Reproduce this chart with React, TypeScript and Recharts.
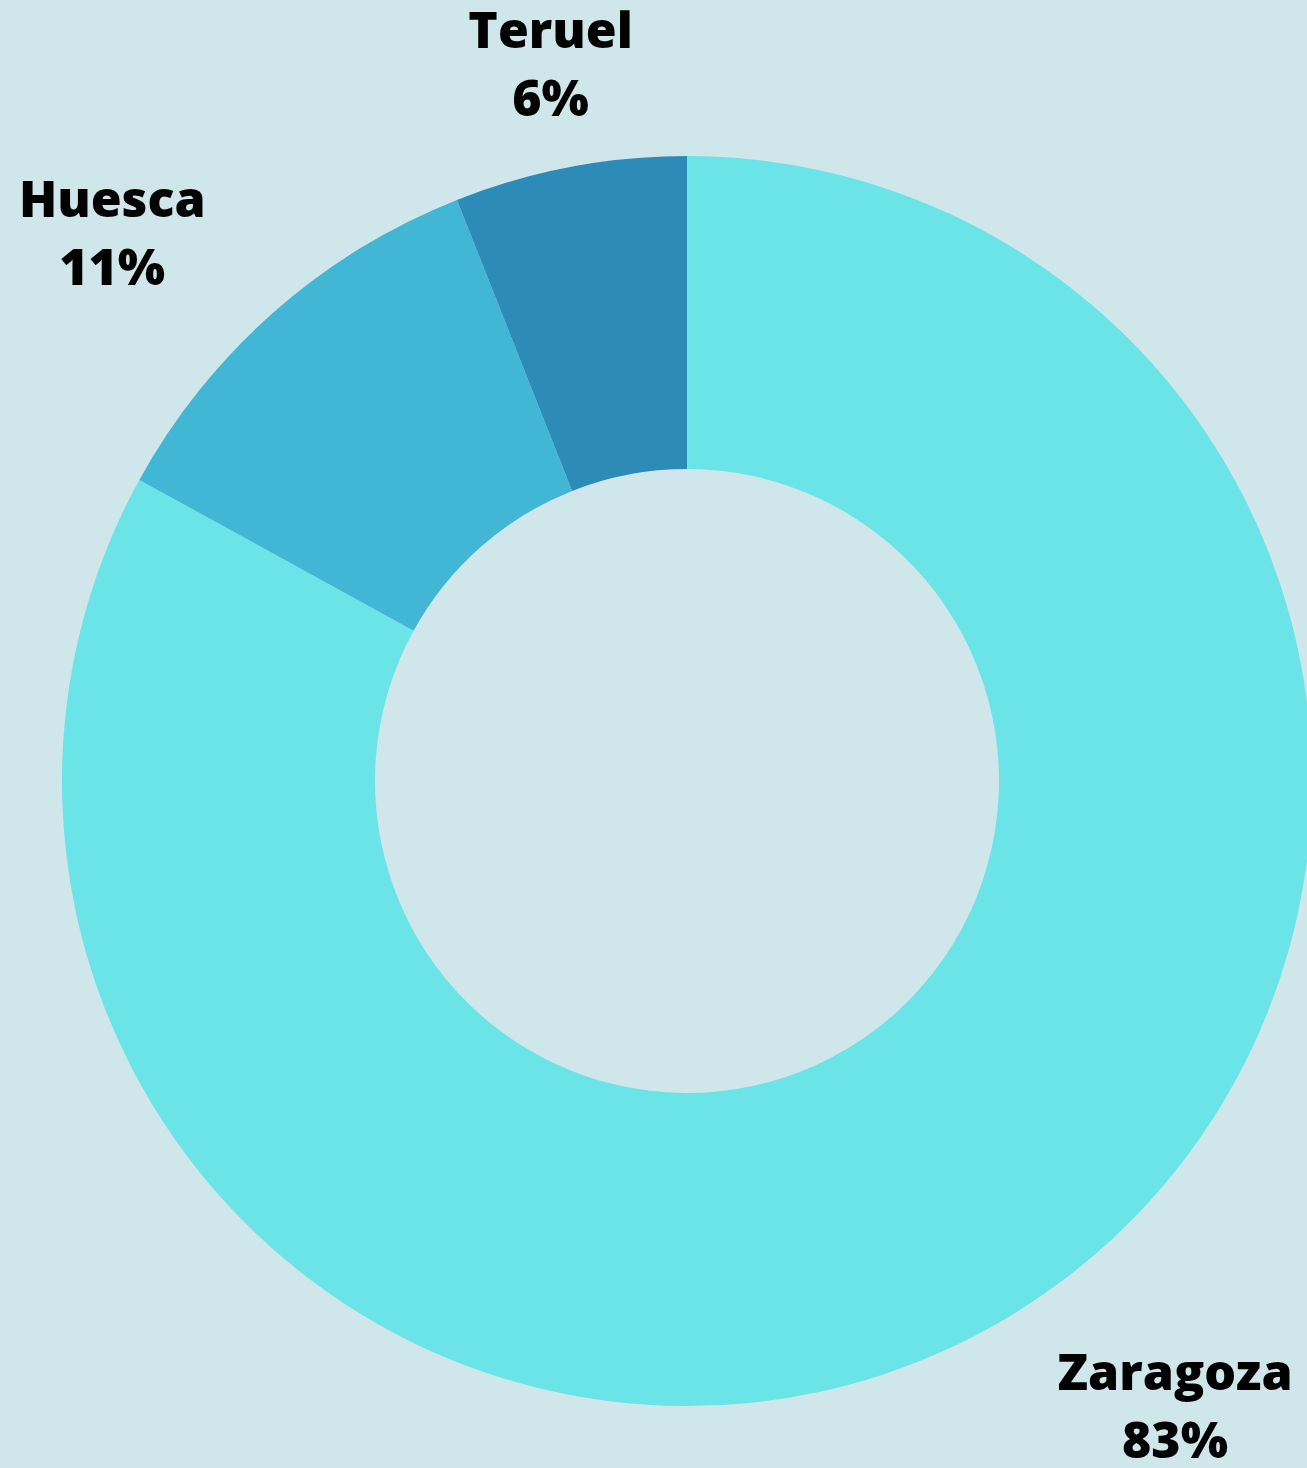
import { PieChart, Pie, Cell } from 'recharts';

const provinces = ['Zaragoza', 'Huesca', 'Teruel'];
const shares = [83, 11, 6];
const sliceColors = ['#6be4e8', '#42b7d5', '#2d8bb8'];

const data = provinces.map((name, i) => ({ name, value: shares[i] }));

const RADIAN = Math.PI / 180;
const LABEL_FONT = "800 50px 'Open Sans'";

let ctx: CanvasRenderingContext2D | null = null;
function textWidth(s: string) {
  if (!ctx) ctx = document.createElement('canvas').getContext('2d');
  if (!ctx) return s.length * 28;
  ctx.font = LABEL_FONT;
  return ctx.measureText(s).width;
}

// two-line label, block centred; block edge touches the radial point on the sides
function renderLabel(props: any) {
  const { cx, cy, midAngle, outerRadius, name, value } = props;
  const r = outerRadius + 103;
  const cos = Math.cos(-midAngle * RADIAN);
  const px = cx + r * cos;
  const y = cy + r * Math.sin(-midAngle * RADIAN);
  const half = textWidth(name) / 2;
  const x = Math.abs(cos) < 0.3 ? px : cos < 0 ? px - half : px + half;
  return (
    <text
      x={x}
      y={y}
      textAnchor="middle"
      fill="#000"
      fontFamily="'Open Sans', sans-serif"
      fontWeight={800}
      fontSize={50}
    >
      <tspan x={x} y={y - 18}>{name}</tspan>
      <tspan x={x} y={y + 50}>{`${value}%`}</tspan>
    </text>
  );
}

export default function App() {
  return (
    <div
      style={{
        position: 'absolute',
        left: 0,
        top: 0,
        width: 1307,
        height: 1468,
        background: '#cfe6ea',
        overflow: 'hidden',
      }}
    >
      <PieChart width={1307} height={1468}>
        <Pie
          data={data}
          dataKey="value"
          nameKey="name"
          cx={682}
          cy={776}
          innerRadius={312}
          outerRadius={625}
          startAngle={90}
          endAngle={-270}
          stroke="none"
          label={renderLabel}
          labelLine={false}
          isAnimationActive={false}
        >
          {data.map((d, i) => (
            <Cell key={d.name} fill={sliceColors[i]} />
          ))}
        </Pie>
      </PieChart>
    </div>
  );
}
